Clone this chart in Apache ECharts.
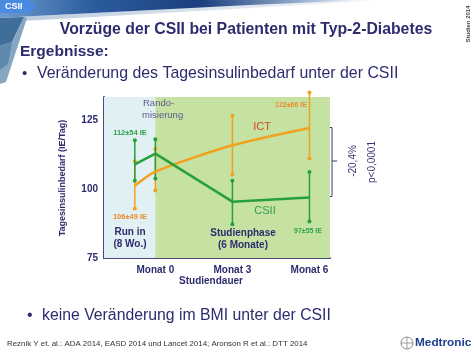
<!DOCTYPE html>
<html><head><meta charset="utf-8">
<script src="https://cdn.jsdelivr.net/npm/echarts@6/dist/echarts.min.js"></script>
<style>html,body{margin:0;padding:0;background:#fff}#c{width:474px;height:355px}</style>
</head><body><div id="c"></div>
<script>
// ---- data ----
var xTickValues = [0, 3, 6];
var xTickLabels = ['Monat 0', 'Monat 3', 'Monat 6'];
var yTickValues = [75, 100, 125];
var runInX = -0.8;
var timeX = [runInX, 0, 3, 6];
var ictMean = [101.2, 106.3, 115.8, 122.1];
var ictLow = [92.9, 99.4, 105.2, 111.0];
var ictHigh = [110.0, 114.6, 126.5, 134.9];
var csiiMean = [108.9, 112.8, 95.4, 96.9];
var csiiLow = [103.0, 103.8, 87.2, 88.2];
var csiiHigh = [117.6, 118.0, 103.0, 106.1];
var phaseStart = -2, phaseRandom = 0, phaseEnd = 6.8;

var NAVY = '#2d2c6e', GREEN = '#26a03a', ORANGE = '#f2a11f';
var FONT = '"Liberation Sans", Arial, sans-serif';

function pairs(xs, ys) { return xs.map(function (x, i) { return [x, ys[i]]; }); }
function triples(xs, lo, hi) { return xs.map(function (x, i) { return [x, lo[i], hi[i]]; }); }

function errItem(color) {
  return function (params, api) {
    var x = api.value(0);
    var p1 = api.coord([x, api.value(2)]);
    var p2 = api.coord([x, api.value(1)]);
    return {
      type: 'group', children: [
        { type: 'line', shape: { x1: p1[0], y1: p1[1], x2: p2[0], y2: p2[1] }, style: { stroke: color, lineWidth: 1.5 } },
        { type: 'circle', shape: { cx: p1[0], cy: p1[1], r: 2 }, style: { fill: color } },
        { type: 'circle', shape: { cx: p2[0], cy: p2[1], r: 2 }, style: { fill: color } }
      ]
    };
  };
}

var chart = echarts.init(document.getElementById('c'));
function txt(x, y, text, o) {
  o = o || {};
  return {
    type: 'text', x: x, y: y, rotation: o.rot || 0, z: 100,
    style: {
      text: text, fill: o.color || NAVY, font: (o.bold ? 'bold ' : '') + (o.size || 10) + 'px ' + FONT,
      textAlign: o.align || 'left', textVerticalAlign: 'middle'
    }
  };
}

var option = {
  animation: false,
  backgroundColor: '#ffffff',
  grid: { left: 104, top: 97, right: 144, bottom: 97 },
  xAxis: {
    type: 'value', min: phaseStart, max: phaseEnd, interval: 1,
    axisLine: { show: true, onZero: false, lineStyle: { color: '#4a4a7c', width: 2 } },
    axisTick: { show: false }, splitLine: { show: false },
    axisLabel: {
      margin: 7, color: NAVY, fontWeight: 'bold', fontSize: 10, fontFamily: FONT,
      formatter: function (v) { var i = xTickValues.indexOf(v); return i >= 0 ? xTickLabels[i] : ''; }
    }
  },
  yAxis: {
    type: 'value', min: 75, max: 133.3, interval: 25,
    axisLine: { show: true, onZero: false, lineStyle: { color: '#4a4a7c', width: 2 } },
    axisTick: { show: false }, splitLine: { show: false },
    axisLabel: {
      margin: 6, color: NAVY, fontWeight: 'bold', fontSize: 10, fontFamily: FONT,
      formatter: function (v) { return yTickValues.indexOf(v) >= 0 ? String(v) : ''; }
    }
  },
  series: [
    {
      type: 'line', data: [], z: 0, silent: true,
      markArea: {
        silent: true, label: { show: false },
        data: [
          [{ xAxis: phaseStart, itemStyle: { color: '#e1f0f3', borderWidth: 0 } }, { xAxis: phaseRandom }],
          [{ xAxis: phaseRandom, itemStyle: { color: '#c6e2a2', borderWidth: 0 } }, { xAxis: phaseEnd }]
        ]
      }
    },
    { type: 'custom', name: 'ICT err', data: triples(timeX, ictLow, ictHigh), renderItem: errItem(ORANGE), clip: false, z: 2 },
    { type: 'custom', name: 'CSII err', data: triples(timeX, csiiLow, csiiHigh), renderItem: errItem(GREEN), clip: false, z: 3 },
    { type: 'line', name: 'ICT', data: pairs(timeX, ictMean), smooth: 0.25, symbol: 'none', lineStyle: { color: ORANGE, width: 2.5 }, z: 4 },
    { type: 'line', name: 'CSII', data: pairs(timeX, csiiMean), symbol: 'none', lineStyle: { color: GREEN, width: 2.5 }, z: 5 }
  ],
  graphic: [
    // header band
    { type: 'polygon', shape: { points: [[0, 18], [35, 16], [250, 5], [365, 0], [372, 1], [250, 8], [40, 20], [0, 22]] },
      style: { fill: new echarts.graphic.LinearGradient(0, 0, 1, 0, [
        { offset: 0, color: '#b9c9dc' }, { offset: 1, color: '#f4f6f9' }]) } },
    { type: 'polygon', shape: { points: [[0, 0], [368, 0], [250, 5], [35, 16], [0, 18]] },
      style: { fill: new echarts.graphic.LinearGradient(0, 0, 1, 0, [
        { offset: 0, color: '#6f9ccf' }, { offset: 0.25, color: '#2b5c9e' }, { offset: 0.55, color: '#1c3f7e' },
        { offset: 0.8, color: '#8ea8c8' }, { offset: 1, color: '#ffffff' }]) } },
    { type: 'polygon', shape: { points: [[0, 18], [24, 17], [12, 42], [0, 46]] }, style: { fill: '#3f6f98' } },
    { type: 'polygon', shape: { points: [[24, 17], [27, 18], [6, 82], [0, 84], [0, 46], [12, 42]] }, style: { fill: '#86a6c2' } },
    { type: 'polygon', shape: { points: [[0, 46], [12, 42], [8, 64], [0, 70]] }, style: { fill: '#5f88ad' } },
    { type: 'polygon', shape: { points: [[0, 0], [30, 0], [36, 6.5], [30, 13], [0, 13]] }, style: { fill: '#4a8ae0' } },
    txt(5, 7, 'CSII', { color: '#ffffff', bold: true, size: 9 }),
    txt(468, 24, 'Studien 2014', { color: '#444444', bold: true, size: 6, rot: Math.PI / 2, align: 'center' }),
    // titles
    txt(246, 30, 'Vorzüge der CSII bei Patienten mit Typ-2-Diabetes', { bold: true, size: 15.8, align: 'center' }),
    txt(20, 52, 'Ergebnisse:', { bold: true, size: 15.5 }),
    txt(22, 74, '•', { size: 15 }),
    txt(37, 74, 'Veränderung des Tagesinsulinbedarf unter der CSII', { size: 15.9 }),
    // axis names
    txt(63, 178, 'Tagesinsulinbedarf (IE/Tag)', { bold: true, size: 9, rot: Math.PI / 2, align: 'center' }),
    txt(211, 281, 'Studiendauer', { bold: true, size: 10, align: 'center' }),
    // in-chart annotations
    txt(143, 103, 'Rando-', { color: '#5c5c8c', size: 9.5 }),
    txt(142, 115, 'misierung', { color: '#5c5c8c', size: 9.5 }),
    txt(130, 133, '112±54 IE', { color: '#2ea04a', bold: true, size: 7.5, align: 'center' }),
    txt(130, 217, '106±49 IE', { color: '#ea8c2a', bold: true, size: 7.5, align: 'center' }),
    txt(130, 232, 'Run in', { bold: true, size: 10, align: 'center' }),
    txt(130, 244, '(8 Wo.)', { bold: true, size: 10, align: 'center' }),
    txt(243, 233, 'Studienphase', { bold: true, size: 10, align: 'center' }),
    txt(243, 245, '(6 Monate)', { bold: true, size: 10, align: 'center' }),
    txt(262, 127, 'ICT', { color: '#d8481c', size: 11, align: 'center' }),
    txt(265, 211, 'CSII', { color: '#2ea04a', size: 11, align: 'center' }),
    txt(291, 105, '122±66 IE', { color: '#ea8c2a', bold: true, size: 7, align: 'center' }),
    txt(308, 231, '97±55 IE', { color: '#2ea04a', bold: true, size: 7, align: 'center' }),
    // bracket
    { type: 'polyline', shape: { points: [[329, 127.5], [332, 127.5], [332, 196.5], [329, 196.5]] }, style: { stroke: '#3a3a6a', lineWidth: 1, fill: null } },
    { type: 'line', shape: { x1: 332, y1: 161, x2: 337, y2: 161 }, style: { stroke: '#3a3a6a', lineWidth: 1 } },
    txt(353, 161, '-20,4%', { color: '#3a3a7a', size: 10, rot: Math.PI / 2, align: 'center' }),
    txt(372, 162, 'p<0,0001', { color: '#3a3a7a', size: 10, rot: Math.PI / 2, align: 'center' }),
    // bottom
    txt(27, 316, '•', { size: 16 }),
    txt(42, 316, 'keine Veränderung im BMI unter der CSII', { size: 15.8 }),
    txt(7, 344, 'Reznik Y et. al.: ADA 2014, EASD 2014 und Lancet 2014; Aronson R et al.: DTT 2014', { color: '#333333', size: 7.9 }),
    { type: 'circle', shape: { cx: 407, cy: 343, r: 6 }, style: { fill: '#ffffff', stroke: '#8a8a8a', lineWidth: 1 } },
    { type: 'line', shape: { x1: 401, y1: 343, x2: 413, y2: 343 }, style: { stroke: '#8a8a8a', lineWidth: 0.8 } },
    { type: 'line', shape: { x1: 407, y1: 337, x2: 407, y2: 349 }, style: { stroke: '#8a8a8a', lineWidth: 0.8 } },
    txt(415, 343, 'Medtronic', { color: '#1d3f8f', bold: true, size: 11.8 })
  ]
};
chart.setOption(option);
</script></body></html>
